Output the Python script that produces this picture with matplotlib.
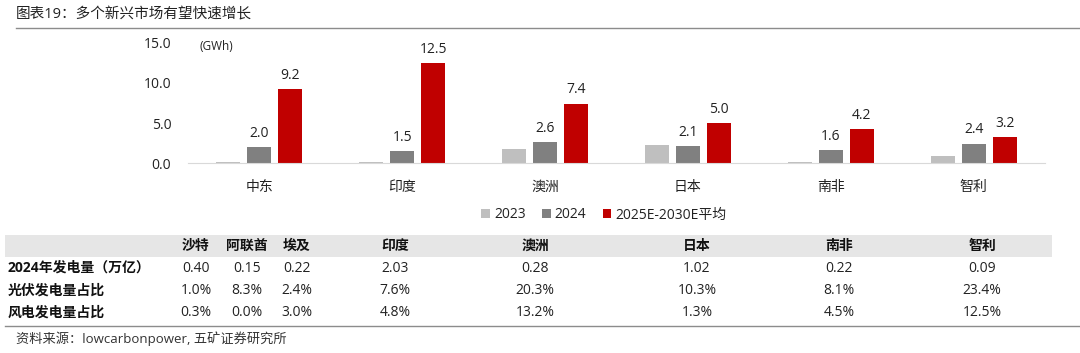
import numpy as np
import matplotlib.pyplot as plt
from matplotlib.patches import Rectangle
from matplotlib.lines import Line2D

plt.rcParams['font.family'] = ['Open Sans', 'Noto Sans CJK SC', 'DejaVu Sans']

# chart data
regions = ['中东', '印度', '澳洲', '日本', '南非', '智利']
v2023 = [0.1, 0.1, 1.7, 2.2, 0.1, 0.9]
v2024 = [2.0, 1.5, 2.6, 2.1, 1.6, 2.4]
v_avg = [9.2, 12.5, 7.4, 5.0, 4.2, 3.2]
series_names = ['2023', '2024', '2025E-2030E平均']

# table data
tbl_cols = ['沙特', '阿联酋', '埃及', '印度', '澳洲', '日本', '南非', '智利']
tbl_rows = ['2024年发电量（万亿）', '光伏发电量占比', '风电发电量占比']
gen_2024 = ['0.40', '0.15', '0.22', '2.03', '0.28', '1.02', '0.22', '0.09']
pv_share = ['1.0%', '8.3%', '2.4%', '7.6%', '20.3%', '10.3%', '8.1%', '23.4%']
wind_share = ['0.3%', '0.0%', '3.0%', '4.8%', '13.2%', '1.3%', '4.5%', '12.5%']

colors = ['#bfbfbf', '#808080', '#c00000']
W, H = 1080, 353


def X(px):
    return px / W


def Y(py):
    return 1 - py / H


fig = plt.figure(figsize=(W / 100, H / 100), dpi=100)

# title
fig.text(X(16), Y(15), '图表19：多个新兴市场有望快速增长', fontsize=10.5, va='center', ha='left', color='#222222')
fig.add_artist(Line2D([X(16), X(1080)], [Y(27.5), Y(27.5)], color='#8c8c8c', lw=1.0))

# bar chart
ax = fig.add_axes([X(188), Y(163), X(1045) - X(188), (163 - 43) / H])
x = np.arange(len(regions))
off = 0.217
bw = 0.168
for i, (vals, c) in enumerate(zip([v2023, v2024, v_avg], colors)):
    bars = ax.bar(x + (i - 1) * off, vals, width=bw, color=c, label=series_names[i], zorder=2)
    if i > 0:
        for b, v in zip(bars, vals):
            ax.text(b.get_x() + b.get_width() / 2, v + 0.8, f'{v:.1f}', ha='center', va='bottom',
                    fontsize=10, color='#222222')
ax.set_xlim(-0.5, len(regions) - 0.5)
ax.set_ylim(0, 15)
ax.set_yticks([0, 5, 10, 15])
ax.set_yticklabels(['0.0', '5.0', '10.0', '15.0'], fontsize=10, color='#222222')
ax.set_xticks(x)
ax.set_xticklabels(regions, fontsize=10, color='#222222')
for s in ['top', 'right', 'left']:
    ax.spines[s].set_visible(False)
ax.spines['bottom'].set_color('#d9d9d9')
ax.tick_params(axis='both', length=0)
ax.tick_params(axis='y', pad=12)
ax.tick_params(axis='x', pad=12)
fig.text(X(200), Y(47), '(GWh)', fontsize=8.5, va='center', ha='left', color='#222222')

leg = fig.legend(*ax.get_legend_handles_labels(), loc='center', bbox_to_anchor=(X(604), Y(215)),
                 ncol=3, frameon=False, fontsize=10, handlelength=0.6, handleheight=0.6,
                 handletextpad=0.3, columnspacing=1.2)
for t in leg.get_texts():
    t.set_color('#222222')

# table
fig.add_artist(Rectangle((X(5), Y(257)), X(1052) - X(5), (257 - 235) / H, color='#e6e6e6', lw=0, zorder=0))
col_x = [196, 247, 297, 395, 535, 697, 839, 982]
for cx, name in zip(col_x, tbl_cols):
    fig.text(X(cx), Y(246), name, fontsize=10, fontweight='bold', ha='center', va='center', color='#111111')
row_y = [268, 291, 313]
for ry, label, vals in zip(row_y, tbl_rows, [gen_2024, pv_share, wind_share]):
    fig.text(X(8), Y(ry), label, fontsize=10, fontweight='bold', ha='left', va='center', color='#111111')
    for cx, v in zip(col_x, vals):
        fig.text(X(cx), Y(ry), v, fontsize=10, ha='center', va='center', color='#222222')
fig.add_artist(Line2D([X(5), X(1080)], [Y(326), Y(326)], color='#8c8c8c', lw=1.0))

# source
fig.text(X(16), Y(339), '资料来源：lowcarbonpower, 五矿证券研究所', fontsize=9.5, ha='left', va='center', color='#333333')

fig.savefig('out.png', dpi=100)
